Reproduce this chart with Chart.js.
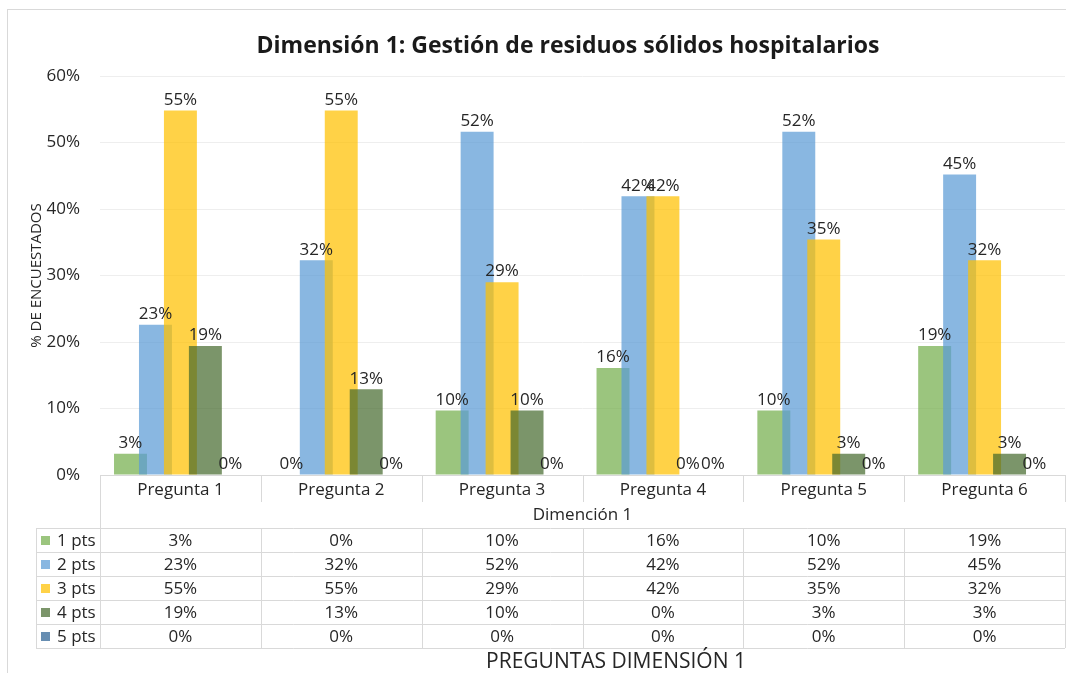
<!DOCTYPE html>
<html>
<head>
<meta charset="utf-8">
<script src="https://cdn.jsdelivr.net/npm/chart.js@4.4.1/dist/chart.umd.min.js"></script>
<style>
  html, body { margin: 0; padding: 0; background: #fff; }
  #wrap { width: 1066px; height: 673px; position: relative; }
</style>
</head>
<body>
<div id="wrap"><canvas id="chart"></canvas></div>
<script>
// data (bar heights; labels shown rounded)
const preguntas = ['Pregunta 1', 'Pregunta 2', 'Pregunta 3', 'Pregunta 4', 'Pregunta 5', 'Pregunta 6'];
const seriesNames = ['1 pts', '2 pts', '3 pts', '4 pts', '5 pts'];
const pts1 = [3.2, 0, 9.7, 16.1, 9.7, 19.4];
const pts2 = [22.6, 32.3, 51.6, 41.9, 51.6, 45.2];
const pts3 = [54.8, 54.8, 29.0, 41.9, 35.4, 32.3];
const pts4 = [19.4, 12.9, 9.7, 0, 3.2, 3.2];
const pts5 = [0, 0, 0, 0, 0, 0];
const yTicks = [0, 10, 20, 30, 40, 50, 60];

const title = 'Dimensión 1: Gestión de residuos sólidos hospitalarios';
const tableCaption = 'Dimención 1';
const xTitle = 'PREGUNTAS DIMENSIÓN 1';
const yTitle = '% DE ENCUESTADOS';

const colors = [
  'rgba(112, 173, 71, 0.7)',
  'rgba(91, 155, 213, 0.72)',
  'rgba(255, 192, 0, 0.72)',
  'rgba(67, 104, 43, 0.7)',
  'rgba(38, 94, 145, 0.7)'
];

const FONT = '"Open Sans", "DejaVu Sans", sans-serif';
const pct = v => Math.round(v) + '%';

const allSeries = [pts1, pts2, pts3, pts4, pts5];

// draw datasets left to right so later bars sit on top of earlier ones
const forwardDraw = {
  id: 'forwardDraw',
  beforeDatasetsDraw(chart) {
    for (const meta of chart.getSortedVisibleDatasetMetas()) chart._drawDataset(meta);
    return false;
  }
};

const frameAndTable = {
  id: 'frameAndTable',
  afterDraw(chart) {
    const ctx = chart.ctx;
    const { left, right, bottom } = chart.chartArea;
    const x = chart.scales.x;
    const w = (right - left) / preguntas.length;
    const rowTop = 528, rowH = 24, legendLeft = 36;
    const line = '#d9d9d9';
    ctx.save();

    // value labels above bars
    ctx.font = '17px ' + FONT;
    ctx.fillStyle = '#262626';
    ctx.textAlign = 'center';
    ctx.textBaseline = 'bottom';
    chart.data.datasets.forEach((ds, i) => {
      chart.getDatasetMeta(i).data.forEach((bar, j) => {
        ctx.fillText(pct(ds.data[j]), bar.x, bar.y - 2);
      });
    });

    // outer frame
    ctx.strokeStyle = line;
    ctx.lineWidth = 1;
    ctx.strokeRect(7.5, 9.5, 1200, 800);

    // title
    ctx.fillStyle = '#1a1a1a';
    ctx.font = 'bold 23px ' + FONT;
    ctx.textBaseline = 'middle';
    ctx.fillText(title, 568, 46);

    // axis line
    ctx.beginPath();
    ctx.moveTo(left, bottom + 0.5);
    ctx.lineTo(right, bottom + 0.5);
    ctx.stroke();

    // vertical separators
    const tableBottom = rowTop + rowH * seriesNames.length;
    for (let i = 0; i <= preguntas.length; i++) {
      const bx = Math.round(left + i * w) + 0.5;
      ctx.beginPath();
      if (i === 0) {
        ctx.moveTo(bx, bottom); ctx.lineTo(bx, tableBottom);
      } else {
        ctx.moveTo(bx, bottom); ctx.lineTo(bx, bottom + 27);
        ctx.moveTo(bx, rowTop); ctx.lineTo(bx, tableBottom);
      }
      ctx.stroke();
    }
    ctx.beginPath();
    ctx.moveTo(legendLeft + 0.5, rowTop); ctx.lineTo(legendLeft + 0.5, tableBottom);
    ctx.stroke();
    for (let r = 0; r <= seriesNames.length; r++) {
      const ly = rowTop + r * rowH + 0.5;
      ctx.beginPath();
      ctx.moveTo(legendLeft, ly); ctx.lineTo(right, ly);
      ctx.stroke();
    }

    // category labels
    ctx.fillStyle = '#262626';
    ctx.font = '17px ' + FONT;
    preguntas.forEach((p, i) => ctx.fillText(p, x.getPixelForTick(i), bottom + 15));
    ctx.fillText(tableCaption, (left + right) / 2, bottom + 40);

    // rows
    seriesNames.forEach((name, r) => {
      const cy = rowTop + r * rowH + rowH / 2 + 1;
      ctx.fillStyle = colors[r];
      ctx.fillRect(41, cy - 5, 9, 9);
      ctx.fillStyle = '#262626';
      ctx.textAlign = 'left';
      ctx.fillText(name, 57, cy);
      ctx.textAlign = 'center';
      allSeries[r].forEach((v, i) => ctx.fillText(pct(v), x.getPixelForTick(i), cy));
    });

    // x axis title
    ctx.font = '21px ' + FONT;
    ctx.fillText(xTitle, 616, 662);
    ctx.restore();
  }
};

new Chart(document.getElementById('chart'), {
  type: 'bar',
  data: {
    labels: preguntas,
    datasets: seriesNames.map((name, i) => ({
      label: name,
      data: allSeries[i],
      backgroundColor: colors[i],
      borderWidth: 0,
      categoryPercentage: 0.776,
      barPercentage: 1.32
    }))
  },
  options: {
    responsive: true,
    maintainAspectRatio: false,
    devicePixelRatio: 1,
    animation: false,
    layout: { padding: { left: 22, right: 1, top: 76, bottom: 198 } },
    plugins: {
      legend: { display: false },
      tooltip: { enabled: false },
      title: { display: false }
    },
    scales: {
      x: { display: false },
      y: {
        min: 0,
        max: 60,
        afterBuildTicks(scale) { scale.ticks = yTicks.map(v => ({ value: v })); },
        afterFit(scale) { scale.width = 78; },
        border: { display: false },
        grid: { color: '#eeeeee', drawTicks: false },
        ticks: {
          padding: 20,
          color: '#262626',
          font: { family: FONT, size: 17 },
          callback: v => v + '%'
        },
        title: {
          display: true,
          text: yTitle,
          color: '#262626',
          font: { family: FONT, size: 15 },
          padding: { top: 6, bottom: 0 }
        }
      }
    }
  },
  plugins: [forwardDraw, frameAndTable]
});
</script>
</body>
</html>
